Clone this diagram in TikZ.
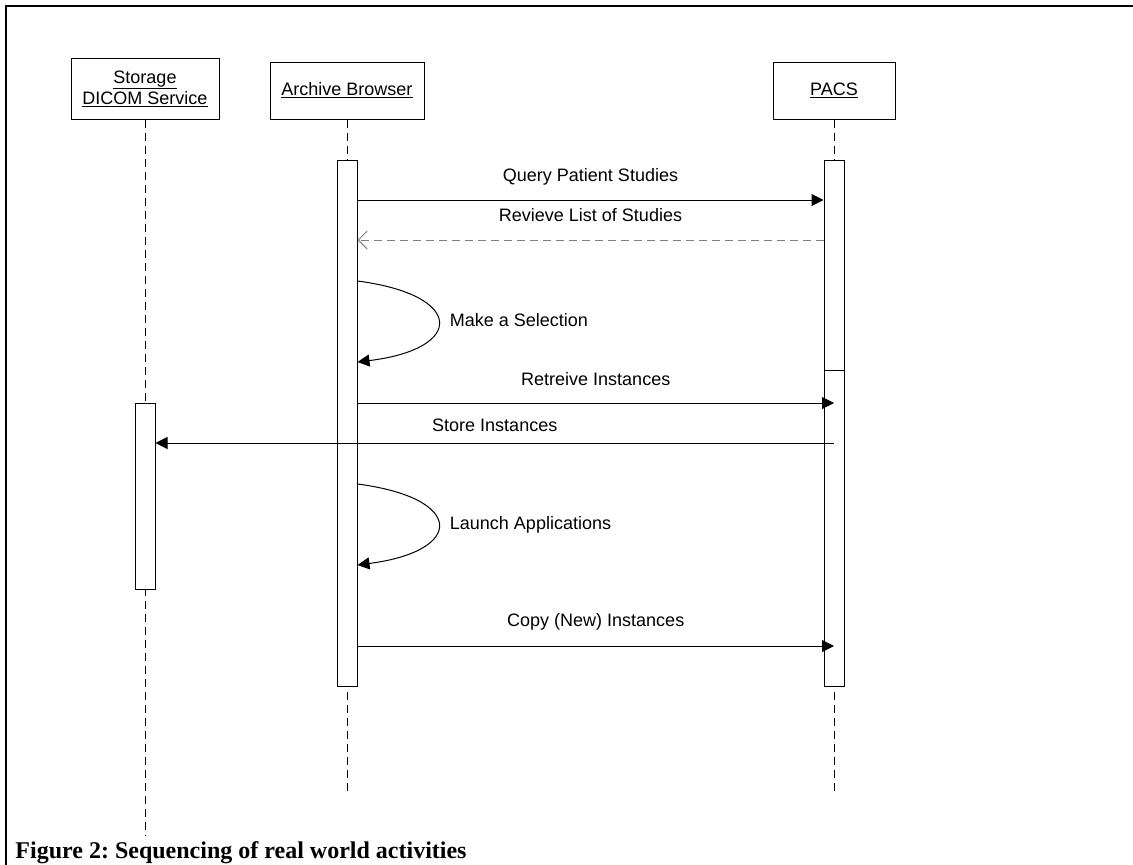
\documentclass[tikz,border=0pt]{standalone}
\usepackage{fontspec}
\setmainfont{Liberation Sans}
\newfontfamily\capfont{Liberation Serif}
\usetikzlibrary{arrows.meta, positioning}
\frenchspacing

\tikzset{
  head/.style={draw, minimum height=57pt, align=center, inner sep=0pt, font=\fontsize{18}{21}\selectfont},
  act/.style={draw, fill=white, minimum width=20pt, inner sep=0pt},
  life/.style={dash pattern=on 8pt off 5pt},
  msg/.style={-{Triangle[length=12pt,width=12pt]}},
  ret/.style={gray, dash pattern=on 8pt off 5pt, -{Straight Barb[length=9pt,width=18pt]}},
  lbl/.style={text=black, font=\fontsize{18}{21}\selectfont, text height=13pt, text depth=4pt}
}

\begin{document}
\begin{tikzpicture}[x=1pt, y=-1pt, line width=1pt]
\useasboundingbox (0,0) rectangle (1133,865);
% frame
\draw[line width=2.5pt] (1133,6) -- (6,6) -- (6,865);

% objects
\node[head, minimum width=148pt, minimum height=61pt] (stor) at (145,88.5) {\underline{Storage}\\\underline{DICOM Service}};
\node[head, minimum width=154pt] (arch) at (347,90.5) {\underline{Archive Browser}};
\node[head, minimum width=122pt] (pacs) at (834,90.5) {\underline{PACS}};

% lifelines
\coordinate (storend) at (145,835);
\coordinate (archend) at (347,792);
\coordinate (pacsend) at (834,792);
\draw[life] (stor) -- (storend);
\draw[life] (arch) -- (archend);
\draw[life] (pacs) -- (pacsend);

% activations
\node[act, minimum height=526pt] (archact) at (347,423) {};
\node[act, minimum height=526pt] (pacsact) at (834,423) {};
\node[act, minimum height=316pt] (pacsact2) at (834,528) {};
\node[act, minimum height=186pt] (storact) at (145,496) {};

% messages
\draw[msg] (archact.east |- 0,200) -- node[lbl, yshift=23pt] (m1) {Query Patient Studies} (pacsact.west |- 0,200);
\draw[ret] (pacsact.west |- 0,240) -- node[lbl, yshift=23pt] (m2) {Revieve List of Studies} (archact.east |- 0,240);
\draw[msg] (archact.east |- 0,281) .. controls (465,295) and (465,349) .. node[lbl, right=8pt] (m3) {Make a Selection} (archact.east |- 0,362);
\draw[msg] (archact.east |- 0,403) -- node[lbl, yshift=22pt] (m4) {Retreive Instances} (pacsact2.center |- 0,403);
\draw[msg] (pacsact2.center |- 0,443) -- node[lbl, yshift=16pt] (m5) {Store Instances} (storact.east |- 0,443);
\draw[msg] (archact.east |- 0,484) .. controls (465,498) and (465,551) .. node[lbl, right=8pt] (m6) {Launch Applications} (archact.east |- 0,565);
\draw[msg] (archact.east |- 0,646) -- node[lbl, yshift=24pt] (m7) {Copy (New) Instances} (pacsact2.center |- 0,646);

% caption
\node[anchor=base west, inner sep=0pt, font=\capfont\bfseries\fontsize{24}{28}\selectfont] (cap) at (15,858) {Figure 2: Sequencing of real world activities};
\end{tikzpicture}
\end{document}
